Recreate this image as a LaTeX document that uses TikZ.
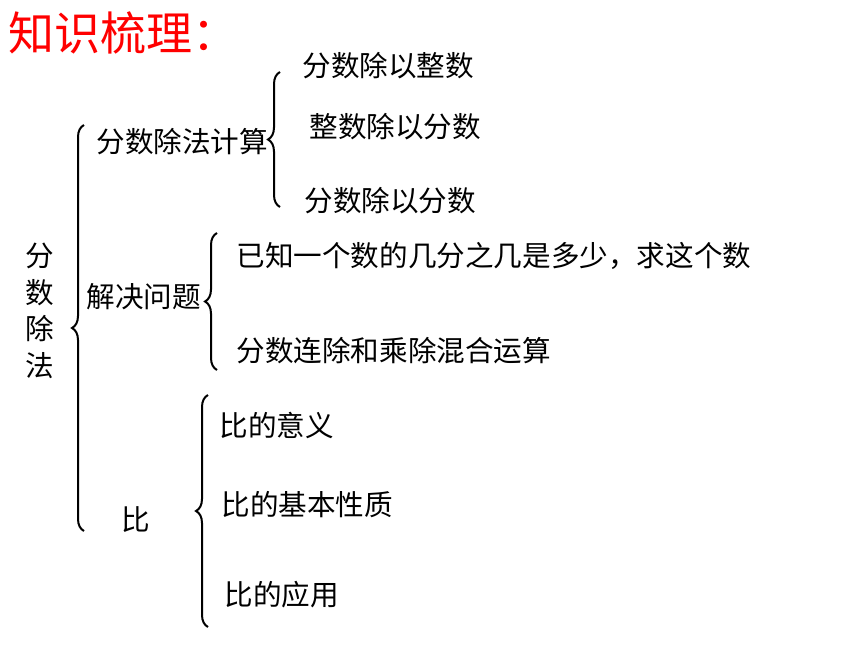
\documentclass[tikz,border=0pt]{standalone}
\usepackage{fontspec}
\newfontfamily\cjk{Noto Sans CJK SC}
\usetikzlibrary{decorations.pathreplacing}
\begin{document}
\begin{tikzpicture}[x=1pt, y=-1pt, thick,
    main/.style = {anchor=west, inner sep=0pt, font=\cjk\fontsize{28.6}{34}\selectfont},
    curly/.style = {decorate, decoration={brace, amplitude=12pt, aspect=0.5}, line width=2pt}]
    \useasboundingbox (0,0) rectangle (860,645);
    
    \node[anchor=west, inner sep=0pt, text=red, font=\cjk\fontsize{46}{46}\selectfont] (title) at (8,33) {知识梳理：};
    
    \node[inner sep=0pt, align=center, font=\cjk\fontsize{28.6}{36.5}\selectfont] (root) at (40,311) {分\\数\\除\\法};
    
    \node[main] (calc) at (96,142) {分数除法计算};
    \node[main] (solve) at (86,297) {解决问题};
    \node[main] (ratio) at (121,520) {比};
    
    \node[main] (c1) at (302,66) {分数除以整数};
    \node[main] (c2) at (309,127) {整数除以分数};
    \node[main] (c3) at (304,201) {分数除以分数};
    
    \node[main] (s1) at (236,256) {已知一个数的几分之几是多少，求这个数};
    \node[main] (s2) at (236,351) {分数连除和乘除混合运算};
    
    \node[main] (r1) at (219,425) {比的意义};
    \node[main] (r2) at (221,505) {比的基本性质};
    \node[main] (r3) at (224,595) {比的应用};
    
    \coordinate (b1s) at (84,531);
    \coordinate (b1e) at (84,125);
    \coordinate (b2s) at (280,207);
    \coordinate (b2e) at (280,72);
    \coordinate (b3s) at (217,370);
    \coordinate (b3e) at (217,233);
    \coordinate (b4s) at (208,627);
    \coordinate (b4e) at (208,395);
    
    \draw[curly] (b1s) -- (b1e);
    \draw[curly] (b2s) -- (b2e);
    \draw[curly] (b3s) -- (b3e);
    \draw[curly] (b4s) -- (b4e);
    
\end{tikzpicture}
\end{document}
